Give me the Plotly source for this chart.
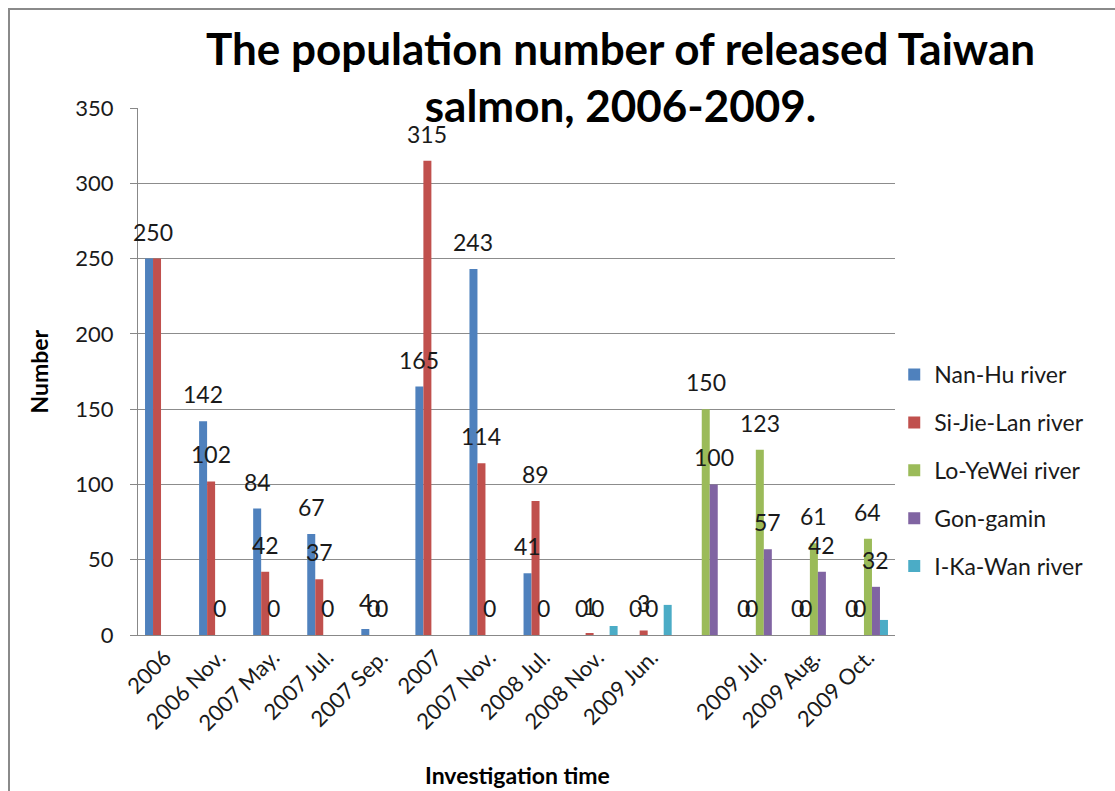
import plotly.graph_objects as go

categories = ["2006", "2006 Nov.", "2007 May.", "2007 Jul.", "2007 Sep.", "2007",
              "2007 Nov.", "2008 Jul.", "2008 Nov.", "2009 Jun.", "",
              "2009 Jul.", "2009 Aug.", "2009 Oct."]

nan_hu = [250, 142, 84, 67, 4, 165, 243, 41, 0, 0, None, 0, 0, 0]
si_jie_lan = [250, 102, 42, 37, 0, 315, 114, 89, 1, 3, None, 0, 0, 0]
lo_yewei = [None, 0, 0, 0, 0, None, 0, 0, 0, 0, 150, 123, 61, 64]
gon_gamin = [None, None, None, None, None, None, None, None, None, None, 100, 57, 42, 32]
i_ka_wan = [None, None, None, None, None, None, None, None, 6, 20, None, None, None, 10]

series = [
    ("Nan-Hu river", nan_hu, "#4F81BD", True),
    ("Si-Jie-Lan river", si_jie_lan, "#C0504D", True),
    ("Lo-YeWei river", lo_yewei, "#9BBB59", True),
    ("Gon-gamin", gon_gamin, "#8064A2", True),
    ("I-Ka-Wan river", i_ka_wan, "#4BACC6", False),
]

FONT = "Lato"
BARGAP = 0.26
xs = list(range(len(categories)))

fig = go.Figure()
for i, (name, vals, color, _) in enumerate(series):
    fig.add_trace(go.Bar(
        x=xs, y=vals, name=name, marker=dict(color=color, line=dict(width=0)),
        legendgroup=name,
    ))

# data labels (Excel-style, above each bar); identical labels of neighbouring
# bars collapse into a single label, as in the original picture
n = len(series)
slot = (1 - BARGAP) / n
labels = []
for i, (name, vals, color, show) in enumerate(series):
    if not show:
        continue
    for j, v in enumerate(vals):
        if v is None:
            continue
        labels.append((j, i, v))
labels.sort()
merged = []
for j, i, v in labels:
    prev = merged[-1] if merged else None
    if prev and v > 0 and prev[0] == j and prev[2] == v and i == prev[1][-1] + 1:
        prev[1].append(i)
    else:
        merged.append([j, [i], v])
annotations = []
for j, idxs, v in merged:
    pos = sum(idxs) / len(idxs)
    annotations.append(dict(
        x=xs[j] + (pos - (n - 1) / 2) * slot, y=v, xref="x", yref="y",
        text=str(v), showarrow=False, yanchor="bottom", xanchor="center",
        yshift=11, font=dict(family=FONT, size=23, color="#1a1a1a"),
    ))

# title
annotations.append(dict(
    text="<b>The population number of released Taiwan<br>salmon, 2006-2009.</b>",
    xref="paper", yref="paper", x=(620 - 138) / 757, y=(635 - 20) / 527,
    xanchor="center", yanchor="top", showarrow=False,
    font=dict(family=FONT, size=44, color="#000"),
))
# axis titles
annotations.append(dict(
    text="<b>Number</b>", xref="paper", yref="paper", x=(38 - 138) / 757, y=0.5,
    textangle=-90, showarrow=False, xanchor="center", yanchor="middle",
    font=dict(family=FONT, size=23, color="#000"),
))
annotations.append(dict(
    text="<b>Investigation time</b>", xref="paper", yref="paper",
    x=(517 - 138) / 757, y=(635 - 775) / 527, showarrow=False,
    xanchor="center", yanchor="middle", font=dict(family=FONT, size=23, color="#000"),
))

fig.update_layout(
    width=1115, height=791,
    margin=dict(l=138, r=220, t=108, b=156),
    paper_bgcolor="white", plot_bgcolor="white",
    barmode="group", bargap=BARGAP, bargroupgap=0,
    showlegend=True,
    legend=dict(
        x=0.999, xanchor="left", y=0.535, yanchor="top",
        font=dict(family=FONT, size=23, color="#1a1a1a"),
        tracegroupgap=15, traceorder="grouped", bgcolor="rgba(0,0,0,0)",
    ),
    annotations=annotations,
    shapes=[dict(type="rect", xref="paper", yref="paper",
                 x0=(9 - 138) / 757, x1=2.0, y0=-1.0, y1=(635 - 9) / 527,
                 line=dict(color="#8a8a8a", width=2), fillcolor="rgba(0,0,0,0)",
                 layer="below")],
)

fig.update_xaxes(
    tickmode="array", tickvals=xs, ticktext=categories, tickangle=-45,
    range=[-0.5, len(categories) - 0.5],
    showline=True, linecolor="#888", linewidth=1, showgrid=False, zeroline=False,
    tickfont=dict(family=FONT, size=22, color="#1a1a1a"), ticks="",
)
fig.update_yaxes(
    range=[0, 350], dtick=50, showgrid=True, gridcolor="#8c8c8c", gridwidth=1,
    showline=True, linecolor="#888", linewidth=1, zeroline=False,
    ticks="outside", ticklen=7, tickcolor="#888",
    tickfont=dict(family=FONT, size=22, color="#1a1a1a"), ticklabelstandoff=12,
)

fig.write_html("out.html")
